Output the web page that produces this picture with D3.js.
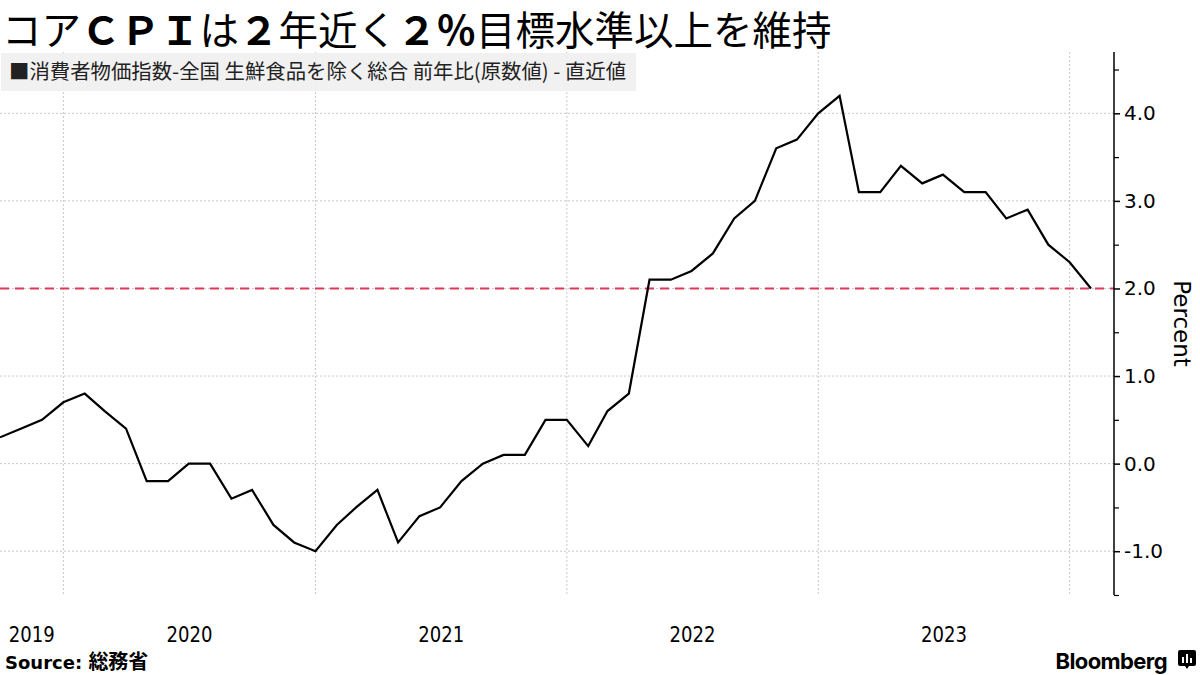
<!DOCTYPE html>
<html>
<head>
<meta charset="utf-8">
<script src="https://cdn.jsdelivr.net/npm/d3@7"></script>
<style>
  body { margin: 0; background: #fff; }
  svg { display: block; }
  .cjk { font-family: "Noto Sans CJK JP", "Noto Sans", sans-serif; }
</style>
</head>
<body>
<script>
// monthly y/y change, core CPI (ex fresh food), Sep 2019 .. Jan 2024
var months = [
  "2019-09","2019-10","2019-11","2019-12",
  "2020-01","2020-02","2020-03","2020-04","2020-05","2020-06","2020-07","2020-08","2020-09","2020-10","2020-11","2020-12",
  "2021-01","2021-02","2021-03","2021-04","2021-05","2021-06","2021-07","2021-08","2021-09","2021-10","2021-11","2021-12",
  "2022-01","2022-02","2022-03","2022-04","2022-05","2022-06","2022-07","2022-08","2022-09","2022-10","2022-11","2022-12",
  "2023-01","2023-02","2023-03","2023-04","2023-05","2023-06","2023-07","2023-08","2023-09","2023-10","2023-11","2023-12",
  "2024-01"
]
var coreCpi = [
  0.3, 0.4, 0.5, 0.7,
  0.8, 0.6, 0.4, -0.2, -0.2, 0.0, 0.0, -0.4, -0.3, -0.7, -0.9, -1.0,
  -0.7, -0.5, -0.3, -0.9, -0.6, -0.5, -0.2, 0.0, 0.1, 0.1, 0.5, 0.5,
  0.2, 0.6, 0.8, 2.1, 2.1, 2.2, 2.4, 2.8, 3.0, 3.6, 3.7, 4.0,
  4.2, 3.1, 3.1, 3.4, 3.2, 3.3, 3.1, 3.1, 2.8, 2.9, 2.5, 2.3,
  2.0
]
var yearLabels = ["2019","2020","2021","2022","2023"]
var yTicks = [-1, 0, 1, 2, 3, 4]
var yMinorTicks = [-1.5, -0.5, 0.5, 1.5, 2.5, 3.5, 4.5]
var target = 2.0

// title pieces, bold ones are the full-width latin/digits
var titleParts = [
  ["コア", false], ["ＣＰＩ", true], ["は", false], ["２", true],
  ["年近く", false], ["２％", true], ["目標水準以上を維持", false]
]

var width = 1200, height = 675
var plot = {left: 0, right: 1114, top: 52, bottom: 595}

var parseMonth = d3.utcParse("%Y-%m")
// each month is plotted at its end
var dataset = months.map(function(m, i) {
  return {date: d3.utcMonth.offset(parseMonth(m), 1), value: coreCpi[i]}
})

var x = d3.scaleUtc()
  .domain([dataset[0].date, dataset[dataset.length - 1].date])
  .range([0, 1091])
var y = d3.scaleLinear().domain([-1.5, 4.7]).range([plot.bottom, plot.top])

var svg = d3.select("body").append("svg")
  .attr("width", width).attr("height", height)

// title
var title = svg.append("text").attr("class", "cjk")
  .attr("x", 2).attr("y", 45)
  .attr("font-size", 39.5).attr("fill", "#000")
title.selectAll("tspan").data(titleParts).enter().append("tspan")
  .attr("font-weight", function(d) { return d[1] ? "bold" : "normal" })
  .text(function(d) { return d[0] })

// gridlines
svg.append("g").selectAll("line")
  .data(yTicks).enter().append("line")
  .attr("x1", plot.left).attr("x2", plot.right)
  .attr("y1", function(d) { return y(d) }).attr("y2", function(d) { return y(d) })
  .attr("stroke", "#c8c8c8").attr("stroke-width", 1).attr("stroke-dasharray", "2,2")

var yearStarts = [2020, 2021, 2022, 2023, 2024].map(function(yr) { return new Date(Date.UTC(yr, 0, 1)) })
svg.append("g").selectAll("line")
  .data(yearStarts).enter().append("line")
  .attr("x1", function(d) { return x(d) }).attr("x2", function(d) { return x(d) })
  .attr("y1", plot.top).attr("y2", plot.bottom)
  .attr("stroke", "#c8c8c8").attr("stroke-width", 1).attr("stroke-dasharray", "2,2")

// legend box
svg.append("rect")
  .attr("x", 1).attr("y", 53).attr("width", 635).attr("height", 38)
  .attr("fill", "#f0f0f0").attr("fill-opacity", 0.92)
svg.append("text").attr("class", "cjk")
  .attr("x", 9).attr("y", 79)
  .attr("font-size", 20.4).attr("fill", "#222")
  .text("■消費者物価指数-全国 生鮮食品を除く総合 前年比(原数値) - 直近値")

// 2% target
svg.append("line")
  .attr("x1", plot.left).attr("x2", plot.right)
  .attr("y1", y(target)).attr("y2", y(target))
  .attr("stroke", "#e0365a").attr("stroke-width", 2).attr("stroke-dasharray", "9,6")

// series
var line = d3.line()
  .x(function(d) { return x(d.date) })
  .y(function(d) { return y(d.value) })
svg.append("path")
  .datum(dataset)
  .attr("d", line)
  .attr("fill", "none").attr("stroke", "#000").attr("stroke-width", 2.2)
  .attr("stroke-linejoin", "miter")

// right axis
var fmt = function(d) { return d3.format(".1f")(d).replace("\u2212", "-") }
var yAxis = d3.axisRight(y).tickValues(yTicks).tickSize(6).tickSizeOuter(0).tickPadding(4).tickFormat(fmt)
var gAxis = svg.append("g")
  .attr("transform", "translate(" + plot.right + ",0)")
  .call(yAxis)
gAxis.select(".domain").attr("stroke", "#000").attr("stroke-width", 1.5)
  .attr("d", "M0," + plot.top + "V" + plot.bottom)
gAxis.selectAll(".tick line").attr("stroke", "#000").attr("stroke-width", 1.5)
gAxis.selectAll(".tick text")
  .attr("font-family", "DejaVu Sans, sans-serif").attr("font-size", 20).attr("fill", "#000")

var minorAxis = d3.axisRight(y).tickValues(yMinorTicks).tickSize(5).tickFormat("")
var gMinor = svg.append("g")
  .attr("transform", "translate(" + plot.right + ",0)")
  .call(minorAxis)
gMinor.select(".domain").remove()
gMinor.selectAll(".tick line").attr("stroke", "#000").attr("stroke-width", 1.2)

svg.append("text")
  .attr("transform", "translate(1174," + ((plot.top + plot.bottom) / 2) + ") rotate(90)")
  .attr("text-anchor", "middle")
  .attr("font-family", "DejaVu Sans, sans-serif").attr("font-size", 23).attr("fill", "#000")
  .text("Percent")

// year labels, centred on the visible part of each year
var x0 = x.domain()[0], x1 = x.domain()[1]
svg.append("g").selectAll("text")
  .data(yearLabels).enter().append("text")
  .attr("x", function(d) {
    var a = new Date(Date.UTC(+d, 0, 1)), b = new Date(Date.UTC(+d + 1, 0, 1))
    if (a < x0) a = x0
    if (b > x1) b = x1
    return (x(a) + x(b)) / 2
  })
  .attr("y", 642)
  .attr("text-anchor", "middle")
  .attr("font-family", "DejaVu Sans, sans-serif").attr("font-size", 22).attr("fill", "#000")
  .attr("textLength", 46).attr("lengthAdjust", "spacingAndGlyphs")
  .text(function(d) { return d })

// footer
var src = svg.append("text").attr("x", 5).attr("y", 669)
  .attr("font-family", "DejaVu Sans, sans-serif").attr("font-size", 18).attr("fill", "#000")
src.append("tspan").attr("font-weight", "bold").text("Source: ")
src.append("tspan").attr("class", "cjk").attr("font-size", 20).attr("font-weight", "bold").text("総務省")

svg.append("text").attr("x", 1167).attr("y", 669)
  .attr("text-anchor", "end")
  .attr("font-family", "Inter, Roboto, sans-serif").attr("font-weight", "bold")
  .attr("font-size", 22).attr("letter-spacing", -0.6).attr("fill", "#000")
  .text("Bloomberg")
var logo = svg.append("g").attr("transform", "translate(1178,650)")
logo.append("path")
  .attr("d", "M2,0 H16 Q18,0 18,2 V14 Q18,16 16,16 H11 L9,19 L7,16 H2 Q0,16 0,14 V2 Q0,0 2,0 Z")
  .attr("fill", "#000")
logo.selectAll("rect").data([[4, 7, 6], [8, 4, 9], [12, 8, 5]]).enter().append("rect")
  .attr("x", function(d) { return d[0] }).attr("y", function(d) { return d[1] })
  .attr("width", 2).attr("height", function(d) { return d[2] })
  .attr("fill", "#fff")
</script>
</body>
</html>
